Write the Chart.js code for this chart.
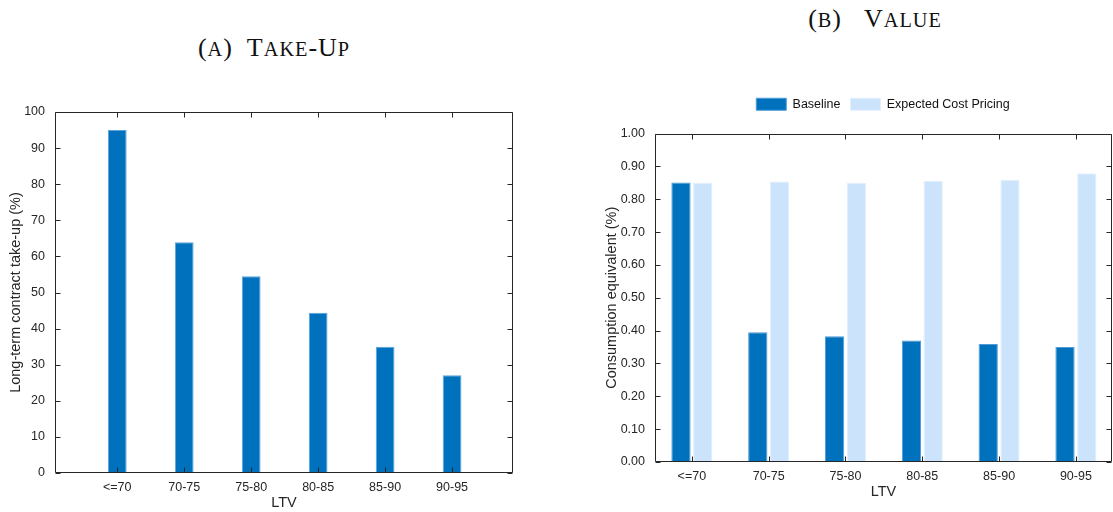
<!DOCTYPE html>
<html>
<head>
<meta charset="utf-8">
<script src="https://cdn.jsdelivr.net/npm/chart.js@4.4.1/dist/chart.umd.min.js"></script>
<style>
  html, body { margin: 0; padding: 0; background: #fff; }
  #wrap { position: relative; width: 1113px; height: 512px; overflow: hidden; }
  canvas { position: absolute; top: 0; }
  #cTake { left: 0; }
  #cValue { left: 556px; }
  .panel-title {
    position: absolute;
    font-family: "Liberation Serif", "Times New Roman", serif;
    font-size: 26px;
    line-height: 26px;
    letter-spacing: 1px;
    color: #111;
    white-space: nowrap;
    text-align: center;
  }
  .sc { text-transform: uppercase; font-size: 0.78em; }
  .gap { display: inline-block; }
</style>
</head>
<body>
<div id="wrap">
  <div class="panel-title" style="left:174px; width:200px; top:35px;">(<span class="sc">a</span>)<span class="gap" style="width:14px"></span>T<span class="sc">ake</span>-U<span class="sc">p</span></div>
  <div class="panel-title" style="left:775px; width:200px; top:6px;">(<span class="sc">b</span>)<span class="gap" style="width:22px"></span>V<span class="sc">alue</span></div>
  <canvas id="cTake" width="556" height="512"></canvas>
  <canvas id="cValue" width="557" height="512"></canvas>
</div>
<script>
// LTV bands shared by both panels
const ltvBands = ['<=70', '70-75', '75-80', '80-85', '85-90', '90-95'];

// Panel A: long-term contract take-up (%)
const takeUp = [95.0, 63.9, 54.5, 44.4, 35.0, 27.1];
const takeUpTicks = [0, 10, 20, 30, 40, 50, 60, 70, 80, 90, 100];

// Panel B: consumption equivalent (%)
const baseline = [0.851, 0.395, 0.383, 0.370, 0.359, 0.350];
const costPricing = [0.850, 0.854, 0.850, 0.856, 0.859, 0.879];
const valueTicks = [0, 0.1, 0.2, 0.3, 0.4, 0.5, 0.6, 0.7, 0.8, 0.9, 1.0];

const AXIS = '#262626';
const SANS = '"Liberation Sans", Arial, Helvetica, sans-serif';
const tickFont = { family: SANS, size: 12.5 };
const labelFont = { family: SANS, size: 14.5 };

// Boxed axes with inward tick marks on all four sides
const framePlugin = {
  id: 'frame',
  afterDatasetsDraw(chart, args, opts) {
    const { ctx, chartArea: a, scales } = chart;
    const xs = scales.x, ys = scales.y;
    const L = Math.round(a.left) + 0.5, R = Math.round(a.right) - 0.5;
    const T = Math.round(a.top) + 0.5, B = Math.round(a.bottom) - 0.5;
    const len = opts.tickLength;
    ctx.save();
    ctx.strokeStyle = opts.color;
    ctx.lineWidth = 1;
    ctx.beginPath();
    ctx.rect(L, T, R - L, B - T);
    xs.ticks.forEach(t => {
      const px = Math.round(xs.getPixelForValue(t.value)) + 0.5;
      ctx.moveTo(px, B); ctx.lineTo(px, B - len);
      ctx.moveTo(px, T); ctx.lineTo(px, T + len);
    });
    ys.ticks.forEach(t => {
      const py = Math.round(ys.getPixelForValue(t.value)) + 0.5;
      ctx.moveTo(L, py); ctx.lineTo(L + len, py);
      ctx.moveTo(R, py); ctx.lineTo(R - len, py);
    });
    ctx.stroke();
    ctx.restore();
  }
};

// Moves the legend row over the plot box instead of the whole canvas
const legendNudge = {
  id: 'legendNudge',
  afterLayout(chart, args, opts) {
    const lg = chart.legend;
    if (!lg) return;
    lg.left += opts.dx; lg.right += opts.dx;
    lg.top += opts.dy; lg.bottom += opts.dy;
  }
};

function bandAxis(min, max, height, titlePad) {
  return {
    type: 'linear',
    offset: false,
    min, max,
    grid: { display: false, drawTicks: false },
    border: { display: false },
    afterBuildTicks: s => { s.ticks = ltvBands.map((_, i) => ({ value: i + 1 })); },
    afterFit: s => { s.height = height; },
    ticks: {
      callback: v => ltvBands[v - 1] ?? '',
      autoSkip: false, maxRotation: 0,
      padding: 7, color: AXIS, font: tickFont
    },
    title: { display: true, text: 'LTV', color: AXIS, font: labelFont, padding: { top: 0, bottom: titlePad } }
  };
}

function valueAxis(tickList, width, text, titlePad, fmt) {
  return {
    min: tickList[0], max: tickList[tickList.length - 1],
    grid: { display: false, drawTicks: false },
    border: { display: false },
    afterBuildTicks: s => { s.ticks = tickList.map(v => ({ value: v })); },
    afterFit: s => { s.width = width; },
    ticks: { callback: fmt, padding: 10, color: AXIS, font: tickFont },
    title: { display: true, text, color: AXIS, font: labelFont, padding: { top: titlePad, bottom: 0 } }
  };
}

new Chart(document.getElementById('cTake'), {
  type: 'bar',
  data: {
    datasets: [{
      label: 'Take-up',
      data: ltvBands.map((_, i) => ({ x: i + 1, y: takeUp[i] })),
      backgroundColor: '#0072bd',
      borderColor: '#5aa2db',
      borderWidth: 1,
      barPercentage: 0.28,
      categoryPercentage: 1
    }]
  },
  options: {
    responsive: false, animation: false, devicePixelRatio: 1,
    layout: { padding: { top: 112, right: 43, bottom: 0, left: 0 } },
    plugins: {
      legend: { display: false },
      tooltip: { enabled: false },
      frame: { color: AXIS, tickLength: 5 }
    },
    scales: {
      x: bandAxis(0.07, 6.91, 39, 0),
      y: valueAxis(takeUpTicks, 55, 'Long-term contract take-up (%)', 7, v => String(v))
    }
  },
  plugins: [framePlugin]
});

new Chart(document.getElementById('cValue'), {
  type: 'bar',
  data: {
    datasets: [{
      label: 'Baseline',
      data: ltvBands.map((_, i) => ({ x: i + 1, y: baseline[i] })),
      backgroundColor: '#0072bd',
      borderColor: '#4f9bd8',
      borderWidth: 1,
      barPercentage: 0.885,
      categoryPercentage: 0.567
    }, {
      label: 'Expected Cost Pricing',
      data: ltvBands.map((_, i) => ({ x: i + 1, y: costPricing[i] })),
      backgroundColor: '#cce4fb',
      borderColor: '#e2effd',
      borderWidth: 1,
      barPercentage: 0.885,
      categoryPercentage: 0.567
    }]
  },
  options: {
    responsive: false, animation: false, devicePixelRatio: 1,
    layout: { padding: { top: 101, right: 1, bottom: 0, left: 0 } },
    plugins: {
      legend: {
        display: true,
        position: 'top',
        labels: { boxWidth: 30, boxHeight: 12, padding: 10, color: '#111', font: tickFont }
      },
      legendNudge: { dx: 49, dy: -13 },
      tooltip: { enabled: false },
      frame: { color: AXIS, tickLength: 5 }
    },
    scales: {
      x: bandAxis(0.52, 6.47, 50, 11),
      y: valueAxis(valueTicks, 99, 'Consumption equivalent (%)', 47, v => v.toFixed(2))
    }
  },
  plugins: [framePlugin, legendNudge]
});
</script>
</body>
</html>
